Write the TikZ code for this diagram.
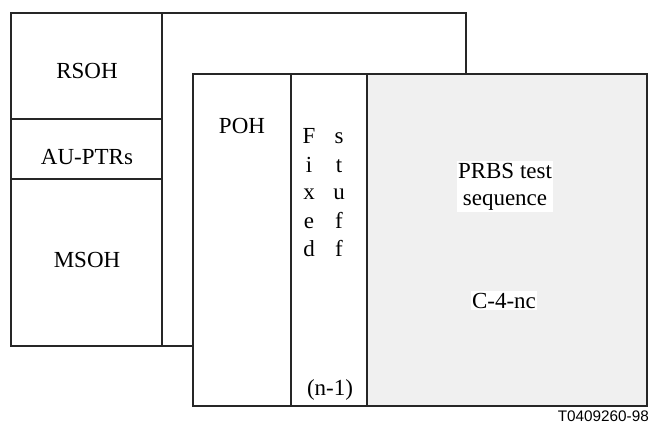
\documentclass[tikz,border=0pt]{standalone}
\usepackage{fontspec}
\setmainfont{Liberation Serif}
\newfontfamily\labelfont{Liberation Sans}
\begin{document}
\begin{tikzpicture}[x=1pt,y=-1pt,
  frame/.style={draw=black!85,line width=1.2pt},
  txt/.style={font=\fontsize{23}{27}\selectfont,inner sep=0pt,anchor=base,text=black},
  wbox/.style={font=\fontsize{23}{27}\selectfont,fill=white,inner xsep=1.5pt,inner ysep=1.5pt,align=center,text=black}]
\useasboundingbox (0,0) rectangle (651,425);
% back frame (STM)
\draw[frame] (11,13) rectangle (466,346);
\draw[frame] (162,13) -- (162,346);
\draw[frame] (11,119) -- (162,119);
\draw[frame] (11,179) -- (162,179);
\node[txt] (rsoh) at (87,79) {RSOH};
\node[txt] (auptr) at (87,165) {AU-PTRs};
\node[txt] (msoh) at (87,267) {MSOH};
% front frame (VC-4-nc)
\fill[white] (193,74) rectangle (647,406);
\fill[black!6] (367,74) rectangle (647,406);
\draw[frame] (193,74) rectangle (647,406);
\draw[frame] (291,74) -- (291,406);
\draw[frame] (367,74) -- (367,406);
\node[txt] (poh) at (242,134) {POH};
\foreach \l [count=\i from 0] in {F,i,x,e,d}
  \node[txt] (fx\i) at (309,144+28*\i) {\l};
\foreach \l [count=\i from 0] in {s,t,u,f,f}
  \node[txt] (st\i) at (339,144+28*\i) {\l};
\node[txt] (nm1) at (330,395) {(n-1)};
\node[wbox] (prbs) at (505,186.5) {PRBS test\\sequence};
\node[wbox,anchor=base] (c4) at (504,308) {C-4-nc};
\node[font=\labelfont\fontsize{15.3}{18}\selectfont,inner sep=0pt,anchor=base east] (lbl) at (649,421) {T0409260-98};
\end{tikzpicture}
\end{document}
